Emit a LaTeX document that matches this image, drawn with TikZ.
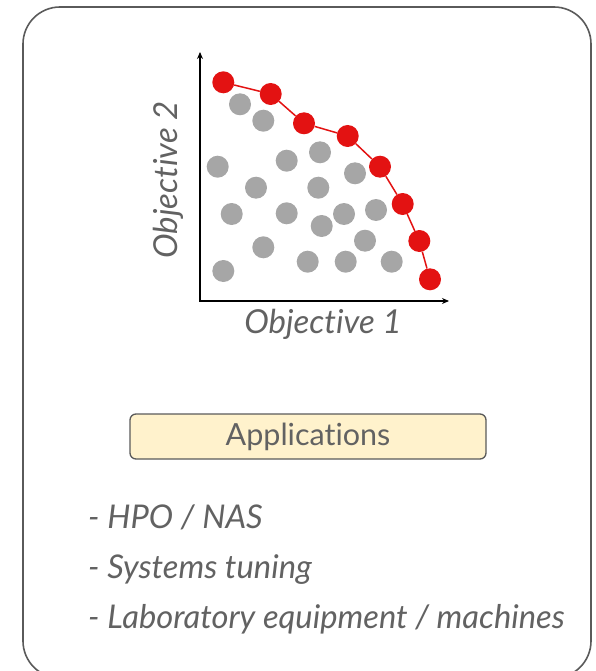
\documentclass[tikz,border=0pt]{standalone}
\usepackage{fontspec}
\setmainfont{Lato}[Ligatures=NoCommon]
\usetikzlibrary{arrows.meta}
\definecolor{txt}{HTML}{626262}
\definecolor{frm}{HTML}{5A5A5A}
\definecolor{dotgray}{HTML}{A6A6A6}
\definecolor{dotred}{HTML}{E31212}
\definecolor{appfill}{HTML}{FFF2CC}
\tikzset{
  frame/.style={draw=frm, line width=1.6pt, rounded corners=37pt},
  axis/.style={draw=black, line width=1.5pt, {Stealth[length=7pt,width=6pt]}-{Stealth[length=7pt,width=6pt]}},
  gdot/.style={circle, fill=dotgray, minimum size=22pt, inner sep=0pt},
  rdot/.style={circle, fill=dotred, minimum size=22pt, inner sep=0pt},
  front/.style={draw=dotred, line width=1.5pt},
  label/.style={text=txt, font=\fontsize{33}{38}\selectfont\itshape, inner sep=0pt},
  appbox/.style={draw=frm, fill=appfill, line width=1.3pt, rounded corners=6pt, minimum width=356pt, minimum height=45pt, inner sep=0pt, text=txt, font=\fontsize{30.5}{35}\selectfont},
  item/.style={text=txt, font=\fontsize{32.7}{38}\selectfont\itshape, inner sep=0pt, anchor=base west}
}
\begin{document}
\begin{tikzpicture}[x=1pt,y=-1pt]
\useasboundingbox (0,0) rectangle (595,671);
\clip (0,0) rectangle (595,671);
\draw[frame] (23,7) rectangle (591,678);
% axes
\coordinate (yT) at (200,52);
\coordinate (O) at (200,301);
\coordinate (xT) at (449,301);
\draw[axis] (yT) -- (O) -- (xT);
% gray points
\foreach \n/\x/\y in {g1/240/104.3, g2/263.3/120.7, g3/217.7/166.7, g4/286.7/160.7, g5/320/152.3,
  g6/256/187.7, g7/318.3/187.7, g8/355/173.3, g9/231.7/214, g10/286.7/213.3, g11/321.7/226,
  g12/344/214, g13/376/210, g14/263.3/247.3, g15/365/240.7, g16/223.3/271, g17/307.7/261.7,
  g18/345.7/261.7, g19/391.7/261.7}
  \node[gdot] (\n) at (\x,\y) {};
% red front
\node[rdot] (r1) at (223.3,82.3) {};
\node[rdot] (r2) at (270.7,94) {};
\node[rdot] (r3) at (304,123.3) {};
\node[rdot] (r4) at (347.7,136) {};
\node[rdot] (r5) at (380,166.7) {};
\node[rdot] (r6) at (402.7,204) {};
\node[rdot] (r7) at (419.3,241) {};
\node[rdot] (r8) at (430,279.3) {};
\draw[front] (r1) -- (r2) -- (r3) -- (r4) -- (r5) -- (r6) -- (r7) -- (r8);
% labels
\node[label] (xl) at (323,324) {Objective 1};
\node[label, rotate=90] (yl) at (168,180) {Objective 2};
% applications
\node[appbox] (app) at (308,436.5) {Applications};
\node[item] (i1) at (88,528) {- HPO / NAS};
\node[item] (i2) at (88,578) {- Systems tuning};
\node[item] (i3) at (88,628) {- Laboratory equipment / machines};
\end{tikzpicture}
\end{document}
